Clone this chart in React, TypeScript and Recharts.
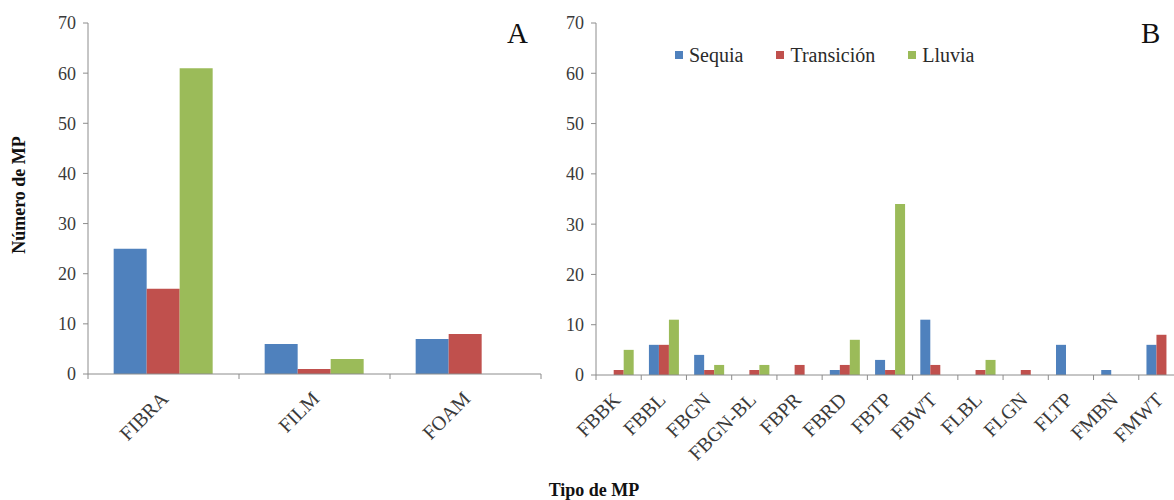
import React from 'react'
import { BarChart, Bar, XAxis, YAxis } from 'recharts'

// Panel A: totals per type
const CATS_A = ['FIBRA', 'FILM', 'FOAM']
const SEQUIA_A = [25, 6, 7]
const TRANSICION_A = [17, 1, 8]
const LLUVIA_A = [61, 3, 0]

// Panel B: detail per colour / sub-type
const CATS_B = [
  'FBBK', 'FBBL', 'FBGN', 'FBGN-BL', 'FBPR', 'FBRD', 'FBTP',
  'FBWT', 'FLBL', 'FLGN', 'FLTP', 'FMBN', 'FMWT',
]
const SEQUIA_B = [0, 6, 4, 0, 0, 1, 3, 11, 0, 0, 6, 1, 6]
const TRANSICION_B = [1, 6, 1, 1, 2, 2, 1, 2, 1, 1, 0, 0, 8]
const LLUVIA_B = [5, 11, 2, 2, 0, 7, 34, 0, 3, 0, 0, 0, 0]

const Y_TICKS = [0, 10, 20, 30, 40, 50, 60, 70]

const SERIES = [
  { key: 'sequia', label: 'Sequia', color: '#4F81BD' },
  { key: 'transicion', label: 'Transición', color: '#C0504D' },
  { key: 'lluvia', label: 'Lluvia', color: '#9BBB59' },
]

const FONT = '"Liberation Serif", "Times New Roman", serif'
const AXIS = '#8c8c8c'
const TEXT = '#3a3a3a'

const buildRows = (cats: string[], s: number[], t: number[], l: number[]) =>
  cats.map((name, i) => ({ name, sequia: s[i], transicion: t[i], lluvia: l[i] }))

const dataA = buildRows(CATS_A, SEQUIA_A, TRANSICION_A, LLUVIA_A)
const dataB = buildRows(CATS_B, SEQUIA_B, TRANSICION_B, LLUVIA_B)

// x tick: rotated label + tick marks on category boundaries
const makeTick = (band: number, count: number, shift: number) => (props: any) => {
  const { x, y, payload, index } = props
  const left = x - band / 2
  return (
    <g>
      <line x1={left} x2={left} y1={y} y2={y + 5} stroke={AXIS} />
      {index === count - 1 && (
        <line x1={x + band / 2} x2={x + band / 2} y1={y} y2={y + 5} stroke={AXIS} />
      )}
      <text
        x={0}
        y={0}
        textAnchor="end"
        fill={TEXT}
        fontSize={20}
        fontFamily={FONT}
        transform={`translate(${x + shift},${y + 26}) rotate(-45)`}
      >
        {payload.value}
      </text>
    </g>
  )
}

function Panel({ data, width, yWidth, right, xHeight, band, count, shift }: any) {
  return (
    <BarChart
      width={width}
      height={500}
      data={data}
      margin={{ top: 23, right, left: 0, bottom: 0 }}
      barCategoryGap="17%"
      barGap={0}
    >
      <XAxis
        dataKey="name"
        height={xHeight}
        interval={0}
        tickLine={false}
        tickSize={0}
        tickMargin={0}
        axisLine={{ stroke: AXIS }}
        tick={makeTick(band, count, shift)}
      />
      <YAxis
        width={yWidth}
        domain={[0, 70]}
        ticks={Y_TICKS}
        interval={0}
        tickSize={5}
        tickMargin={7}
        axisLine={{ stroke: AXIS }}
        tickLine={{ stroke: AXIS }}
        tick={{ fill: TEXT, fontSize: 18, fontFamily: FONT }}
      />
      {SERIES.map((s) => (
        <Bar key={s.key} dataKey={s.key} name={s.label} fill={s.color} isAnimationActive={false} />
      ))}
    </BarChart>
  )
}

const letterStyle: React.CSSProperties = {
  position: 'absolute',
  top: 19,
  fontSize: 29,
  lineHeight: '29px',
  fontFamily: FONT,
  color: '#111',
}

const titleStyle: React.CSSProperties = {
  position: 'absolute',
  fontSize: 18,
  fontWeight: 'bold',
  fontFamily: FONT,
  whiteSpace: 'nowrap',
  color: '#111',
}

export default function App() {
  return (
    <div
      style={{
        position: 'fixed',
        left: 0,
        top: 0,
        width: 1174,
        height: 500,
        overflow: 'hidden',
        background: '#fff',
        fontFamily: FONT,
      }}
    >
      <div style={{ position: 'absolute', left: 0, top: 0 }}>
        <Panel data={dataA} width={560} yWidth={88} right={19} xHeight={126} band={151} count={CATS_A.length} shift={6} />
      </div>
      <div style={{ position: 'absolute', left: 560, top: 0 }}>
        <Panel data={dataB} width={640} yWidth={36} right={16} xHeight={125} band={588 / 13} count={CATS_B.length} shift={3} />
      </div>

      {/* panel letters */}
      <div style={{ ...letterStyle, left: 507 }}>A</div>
      <div style={{ ...letterStyle, left: 1141 }}>B</div>

      {/* legend */}
      <div
        style={{
          position: 'absolute',
          left: 675,
          top: 42,
          display: 'flex',
          gap: 33,
          fontSize: 20,
          lineHeight: '26px',
          fontFamily: FONT,
          color: '#2a2a2a',
        }}
      >
        {SERIES.map((s) => (
          <div key={s.key} style={{ display: 'flex', alignItems: 'center', gap: 6 }}>
            <span style={{ width: 8, height: 8, background: s.color, display: 'inline-block' }} />
            <span>{s.label}</span>
          </div>
        ))}
      </div>

      {/* axis titles */}
      <div style={{ ...titleStyle, left: 19, top: 195, transform: 'translate(-50%, -50%) rotate(-90deg)' }}>
        Número de MP
      </div>
      <div style={{ ...titleStyle, left: 594, top: 490, transform: 'translate(-50%, -50%)' }}>
        Tipo de MP
      </div>
    </div>
  )
}
